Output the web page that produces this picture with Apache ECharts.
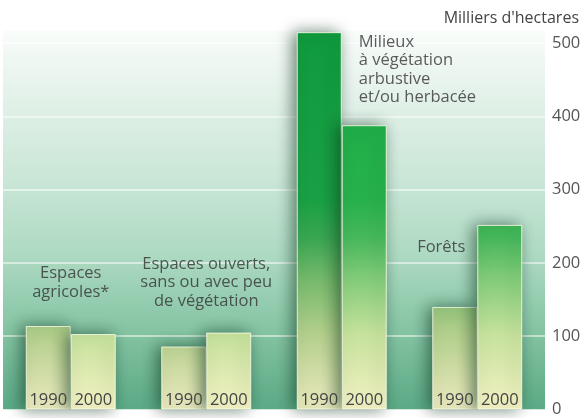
<!DOCTYPE html>
<html><head><meta charset="utf-8">
<script src="https://cdn.jsdelivr.net/npm/echarts@6/dist/echarts.min.js"></script>
<style>html,body{margin:0;padding:0;background:#fff}#c{width:586px;height:418px}</style>
</head><body><div id="c"></div>
<script>
const categories = ['Espaces agricoles*', 'Espaces ouverts, sans ou avec peu de végétation', 'Milieux à végétation arbustive et/ou herbacée', 'Forêts'];
const values1990 = [114, 86, 515, 140];
const values2000 = [103, 105, 388, 252];
const yearLabels = ['1990', '2000'];
const yTicks = [0, 100, 200, 300, 400, 500];
const unitLabel = "Milliers d'hectares";
const annoTexts = ['Espaces\nagricoles*', 'Espaces ouverts,\nsans ou avec peu\nde végétation', 'Milieux\nà végétation\narbustive\net/ou herbacée', 'Forêts'];
const annoCategory = [0, 1, 2, 3];
const annoValue = [173, 173, 464, 221];

const FONT = "'Open Sans', 'DejaVu Sans', sans-serif";
const barGrad = {type:'linear', x:0, y:410, x2:0, y2:30, global:true, colorStops:[
  {offset:0, color:'#f3f1c4'},
  {offset:0.2, color:'#c6e29c'},
  {offset:0.35, color:'#80cb78'},
  {offset:0.45, color:'#48b85c'},
  {offset:0.55, color:'#27b14c'},
  {offset:1, color:'#17aa46'}]};
const barGrad90 = {type:'linear', x:0, y:410, x2:0, y2:30, global:true, colorStops:[
  {offset:0, color:'#ebe9bf'},
  {offset:0.2, color:'#b3cf8c'},
  {offset:0.35, color:'#72b86a'},
  {offset:0.45, color:'#3aa653'},
  {offset:0.55, color:'#1aa044'},
  {offset:1, color:'#109a3e'}]};
const bgGrad = {type:'linear', x:0, y:0, x2:0, y2:1, colorStops:[
  {offset:0, color:'#f9fcfa'},
  {offset:0.2, color:'#e0f0e7'},
  {offset:0.4, color:'#c9e6d6'},
  {offset:0.6, color:'#acd9c1'},
  {offset:0.8, color:'#83c3a2'},
  {offset:1, color:'#5ba985'}]};

const chart = echarts.init(document.getElementById('c'));
const barCommon = {
  type:'bar', barWidth:45, barGap:'0%',
  label:{show:true, position:'insideBottom', distance:1, fontFamily:FONT, fontSize:16.5, color:'#444'}
};
const annoLabelStyles = [
  {position:'inside', align:'center'},
  {position:'inside', align:'center'},
  {position:'inside', align:'left', offset:[17,0]},
  {position:'inside', align:'center', offset:[-36,0]}
];
chart.setOption({
  animation:false,
  title:{text:unitLabel, right:2, top:5, textStyle:{fontFamily:FONT, fontSize:16, fontWeight:'normal', color:'#444'}},
  grid:{left:3, right:41, top:30, bottom:8, show:true, borderWidth:0, backgroundColor:bgGrad},
  xAxis:{type:'category', data:categories, axisLine:{show:false}, axisTick:{show:false}, axisLabel:{show:false}},
  yAxis:{type:'value', position:'right', min:0, max:518, interval:100,
    axisLine:{show:false}, axisTick:{show:false},
    splitLine:{lineStyle:{color:'rgba(255,255,255,0.7)', width:1.5}},
    axisLabel:{margin:7, fontFamily:FONT, fontSize:16.5, color:'#555',
      formatter:v => yTicks.includes(v) ? String(v) : ''}},
  series:[
    Object.assign({}, barCommon, {name:yearLabels[0], data:values1990, clip:false,
      label:Object.assign({}, barCommon.label, {formatter:yearLabels[0]}),
      itemStyle:{color:barGrad90, borderColor:'rgba(255,255,235,0.8)', borderWidth:1,
        shadowBlur:16, shadowColor:'rgba(10,50,30,0.6)', shadowOffsetX:-4}}),
    Object.assign({}, barCommon, {name:yearLabels[1], data:values2000, clip:false,
      label:Object.assign({}, barCommon.label, {formatter:yearLabels[1]}),
      itemStyle:{color:barGrad, borderColor:'rgba(255,255,235,0.8)', borderWidth:1,
        shadowBlur:16, shadowColor:'rgba(10,50,30,0.6)', shadowOffsetX:-4}}),
    {type:'scatter', symbolSize:1, itemStyle:{color:'rgba(0,0,0,0)'}, silent:true, z:5,
      data:annoTexts.map((t,i)=>({value:[annoCategory[i], annoValue[i]],
        label:Object.assign({show:true, formatter:t, fontFamily:FONT, fontSize:16.5, lineHeight:18.5, color:'#333'}, annoLabelStyles[i])}))}
  ]
});
</script></body></html>
